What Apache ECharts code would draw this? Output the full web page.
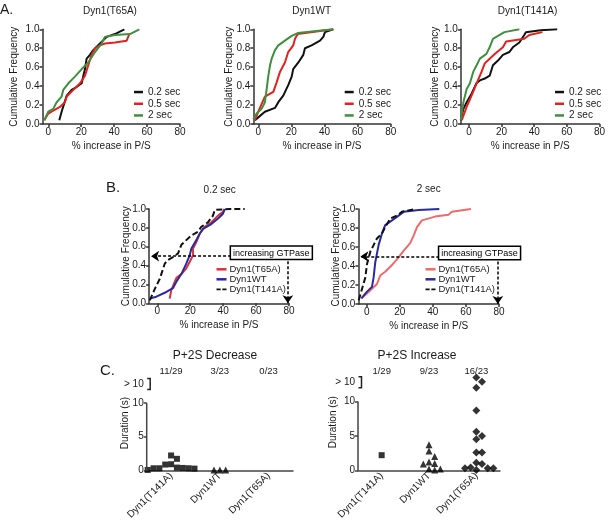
<!DOCTYPE html>
<html><head><meta charset="utf-8">
<script src="https://cdn.jsdelivr.net/npm/echarts@6/dist/echarts.min.js"></script>
<style>html,body{margin:0;padding:0;background:#fff}#c{width:608px;height:522px}</style>
</head><body><div id="c"></div>
<script>
// ---------- DATA ----------
const xTickVals = [0, 20, 40, 60, 80];
// Panel A1: Dyn1(T65A)
const a1_02_x = [6.7,8.1,11.2,14.2,17.2,20.3,21.3,22.3,23.3,25.3,27.3,31.4,35.5,40.5,46.2];
const a1_02_y = [0.04,0.13,0.30,0.36,0.39,0.43,0.51,0.58,0.69,0.73,0.78,0.85,0.92,0.95,1.0];
const a1_05_x = [-2.4,0,3,7.1,10.1,11.2,15.2,19.3,22.3,24.3,26.3,28.4,31.4,34.4,40.5,47.6,49.2];
const a1_05_y = [0.04,0.11,0.14,0.18,0.23,0.29,0.36,0.43,0.51,0.62,0.73,0.80,0.83,0.85,0.86,0.88,0.95];
const a1_2_x = [-2.4,0,3,5.1,8.1,9.1,12.2,16.2,20.3,24.3,28.4,32.4,34.4,40.5,49.6,55.3];
const a1_2_y = [0.04,0.13,0.16,0.23,0.29,0.36,0.43,0.50,0.58,0.65,0.76,0.85,0.92,0.94,0.95,1.0];
// Panel A2: Dyn1WT
const a2_02_x = [-2,0,4,10.1,12.1,15.1,18.1,20.2,21.1,24.2,27.2,28.2,32.2,37.3,39.3,40.3,45.3];
const a2_02_y = [0.04,0.07,0.13,0.17,0.23,0.30,0.41,0.50,0.58,0.65,0.73,0.80,0.83,0.88,0.92,0.97,1.0];
const a2_05_x = [-2,0,2,4,9.1,11.1,13.1,16.1,18.1,21.1,22.2,23.8,45.3];
const a2_05_y = [0.04,0.13,0.21,0.29,0.34,0.44,0.55,0.65,0.76,0.83,0.90,0.95,1.0];
const a2_2_x = [-3,-1,2,4,5.1,6,7.1,8.1,10.1,12.1,16.1,20.2,23.8,45.3];
const a2_2_y = [0.05,0.11,0.16,0.23,0.37,0.50,0.62,0.69,0.78,0.83,0.88,0.93,0.96,1.0];
// Panel A3: Dyn1(T141A)
const a3_02_x = [-5,-3.4,-1.4,1.6,4.6,6.7,9.7,12.7,14.7,17.8,20.8,24.8,26.9,30.9,33.9,34.9,44,54.1];
const a3_02_y = [0.04,0.16,0.23,0.32,0.43,0.46,0.48,0.51,0.62,0.67,0.73,0.76,0.81,0.86,0.94,0.97,0.99,1.0];
const a3_05_x = [-4.4,-1.4,1.6,4.7,7.7,9.7,12.7,15.8,20.8,22.8,29.9,33.9,37,45];
const a3_05_y = [0.04,0.18,0.30,0.43,0.55,0.64,0.69,0.74,0.81,0.87,0.89,0.90,0.94,0.97];
const a3_2_x = [-5,-3.4,-1.4,0.6,2.6,4.7,6.7,10.7,12.7,14.7,18.8,21.8,30.9];
const a3_2_y = [0.04,0.23,0.37,0.43,0.55,0.62,0.69,0.74,0.81,0.90,0.94,0.97,1.0];
// Panel B1: 0.2 sec
const b1_t65_x = [7.5,8.5,10.6,11.6,14.6,17.6,19.7,21.7,21.7,23.7,25.8,28.8,32.8,36.9,39.9,40.9];
const b1_t65_y = [0.05,0.14,0.23,0.27,0.31,0.37,0.44,0.51,0.58,0.65,0.74,0.81,0.86,0.93,0.97,1.0];
const b1_wt_x = [-4.6,-0.6,5.5,9.5,11.6,14.6,17.6,19.7,20.7,23.7,25.8,27.8,32.8,36.9,39.9,41];
const b1_wt_y = [0.05,0.07,0.12,0.16,0.23,0.31,0.42,0.51,0.58,0.67,0.74,0.79,0.84,0.90,0.95,1.0];
const b1_t141_x = [-4.6,-1.6,1.5,4.5,6.5,9.5,12.6,14.6,17.6,20.7,24.7,26.7,30.8,33.8,34.9,44,53.1];
const b1_t141_y = [0.03,0.15,0.26,0.42,0.46,0.49,0.53,0.62,0.67,0.72,0.76,0.81,0.86,0.93,0.99,1.0,1.0];
// Panel B2: 2 sec
const b2_t65_x = [-3.2,0.2,3.2,6.2,8.2,11.2,15.3,19.3,22.3,26.3,28.4,30.4,33.4,41.4,49.5,51.5,63];
const b2_t65_y = [0.06,0.11,0.16,0.21,0.30,0.34,0.41,0.49,0.56,0.64,0.72,0.81,0.88,0.92,0.94,0.97,1.0];
const b2_wt_x = [-3.2,0.2,3.2,4.2,5.2,7.2,9.2,11.2,15.3,19.3,22.3,31.4,43.9];
const b2_wt_y = [0.06,0.13,0.18,0.28,0.44,0.62,0.74,0.83,0.88,0.93,0.97,0.99,1.0];
const b2_t141_x = [-4.8,-2.8,-0.8,0.2,2.2,4.2,6.2,9.2,11.2,14.3,18.3,21.3,29.4];
const b2_t141_y = [0.04,0.16,0.28,0.42,0.55,0.62,0.69,0.74,0.81,0.90,0.93,0.97,1.0];
// Panel C
const catsC = ['Dyn1(T141A)', 'Dyn1WT', 'Dyn1(T65A)'];
const totalsC = [29, 23, 23];
const decT141A = [2.2,1.7,0.9,0.85,0.4,0.35,0.3,0.3,0.3,0.25,0.05];
const decWT = [0.05,0.05,0.05];
const decT65A = [];
const incT141A = [2.2];
const incWT = [3.7,2.8,2.0,1.2,1.0,0.9,0.2,0.2,0.05];
const incT65A = [13.5,12.9,12.0,8.7,5.6,5.0,4.5,2.6,2.6,1.1,0.9,0.4,0.3,0.3,0.3,0.05];
const cYTicks = [0, 5, 10];
const cBreakLabel = 12.8;

// ---------- STYLE ----------
const FONT = '"Liberation Sans", Arial, Helvetica, sans-serif';
const TXT = '#1a1a1a';
const AX = '#333';
const BLACK = '#111', RED = '#e3211f', GREEN = '#3f8f3f', BLUE = '#2a2aa0', RED_B1 = '#d8323c', RED_B2 = '#ee6b6b';

const pairs = (xs, ys) => xs.map((x, i) => [x, ys[i]]);

function lineSeries(name, xs, ys, idx, color, dashed) {
  return {
    name, type: 'line', xAxisIndex: idx, yAxisIndex: idx, data: pairs(xs, ys),
    symbol: 'none', showSymbol: false, silent: true,
    lineStyle: { width: 2, color, type: dashed ? [6, 3] : 'solid' },
    itemStyle: { color }, emphasis: { disabled: true }
  };
}

const gridsAB = [
  { left: 42.5, top: 29.3, width: 137.5, height: 94.7, min: -3.5, yGap: 23, xGap: 17 },
  { left: 253.3, top: 29.3, width: 137.4, height: 94.7, min: -3, yGap: 19.5, xGap: 17 },
  { left: 460.8, top: 29.3, width: 140.2, height: 94.7, min: -5, yGap: 20.5, xGap: 17 },
  { left: 149.1, top: 209, width: 139.9, height: 94.3, min: -5, yGap: 18, xGap: 17 },
  { left: 358.4, top: 209, width: 140.6, height: 95, min: -5, yGap: 17.5, xGap: 17 }
];

const grids = [], xAxes = [], yAxes = [];
gridsAB.forEach((g, i) => {
  grids.push({ left: g.left, top: g.top, width: g.width, height: g.height, containLabel: false });
  xAxes.push({
    type: 'value', gridIndex: i, min: g.min, max: 80,
    name: '% increase in P/S', nameLocation: 'middle', nameGap: g.xGap, nameMoveOverlap: false,
    nameTextStyle: { fontSize: 10, color: TXT, fontFamily: FONT },
    axisLine: { show: true, onZero: false, lineStyle: { color: AX, width: 1.5 } },
    axisTick: { show: true, length: 3, customValues: xTickVals, lineStyle: { color: AX, width: 1.5 } },
    axisLabel: { customValues: xTickVals, fontSize: 10, color: TXT, margin: 3, fontFamily: FONT },
    splitLine: { show: false }
  });
  yAxes.push({
    type: 'value', gridIndex: i, min: 0, max: 1, interval: 0.2,
    name: 'Cumulative Frequency', nameLocation: 'middle', nameGap: g.yGap, nameMoveOverlap: false,
    nameTextStyle: { fontSize: 10, color: TXT, fontFamily: FONT },
    axisLine: { show: true, onZero: false, lineStyle: { color: AX, width: 1.5 } },
    axisTick: { show: true, length: 3, lineStyle: { color: AX, width: 1.5 } },
    axisLabel: { fontSize: 10, color: TXT, margin: 3, fontFamily: FONT, formatter: v => v.toFixed(1) },
    splitLine: { show: false }
  });
});

// Panel C grids (index 5, 6)
const gridsC = [
  { left: 146.7, top: 375.9, width: 146.3, height: 95.8, nameGap: 16 },
  { left: 358, top: 374.1, width: 142, height: 97.6, nameGap: 20 }
];
gridsC.forEach((g, j) => {
  const gi = 5 + j;
  grids.push({ left: g.left, top: g.top, width: g.width, height: g.height, containLabel: false });
  yAxes.push({
    type: 'value', gridIndex: gi, min: 0, max: 14,
    name: 'Duration (s)', nameLocation: 'middle', nameGap: g.nameGap, nameMoveOverlap: false,
    nameTextStyle: { fontSize: 10, color: TXT, fontFamily: FONT },
    axisLine: { show: false },
    axisTick: { show: true, length: 3, customValues: cYTicks, lineStyle: { color: '#444', width: 1.5 } },
    axisLabel: { customValues: cYTicks.concat([cBreakLabel]), fontSize: 10, color: TXT, margin: 3, fontFamily: FONT,
      formatter: v => (v > 10 ? '> 10' : String(v)) },
    splitLine: { show: false }
  });
});
[5, 6].forEach(gi => {
  xAxes.push({
    type: 'category', gridIndex: gi, data: catsC, boundaryGap: true,
    axisLine: { show: true, onZero: false, lineStyle: { color: '#444', width: 1.5 } },
    axisTick: { show: false },
    axisLabel: { rotate: 45, interval: 0, fontSize: 10, color: TXT, margin: 4, fontFamily: FONT },
    splitLine: { show: false }
  });
});
[5, 6].forEach(gi => {
  xAxes.push({ type: 'value', gridIndex: gi, min: 0, max: 3, show: false, splitLine: { show: false } });
});

// beeswarm layout of points within a category
function swarm(vals, catIdx, pxPerY) {
  const step = 0.12, size = 6.2, placed = [];
  const center = catIdx + 0.5;
  vals.forEach(v => {
    for (let k = 0; k < 60; k++) {
      const m = k === 0 ? 0 : (k % 2 ? (k + 1) / 2 : -k / 2);
      const x = center + m * step;
      const ok = placed.every(p => Math.abs(p[0] - x) > step * 0.5 || Math.abs(p[1] - v) * pxPerY >= size);
      if (ok) { placed.push([x, v]); break; }
    }
  });
  return placed;
}
const symbolsC = ['rect', 'triangle', 'diamond'];
const sizesC = [6, 7, 8];

const series = [
  lineSeries('0.2 sec', a1_02_x, a1_02_y, 0, BLACK),
  lineSeries('0.5 sec', a1_05_x, a1_05_y, 0, RED),
  lineSeries('2 sec', a1_2_x, a1_2_y, 0, GREEN),
  lineSeries('0.2 sec', a2_02_x, a2_02_y, 1, BLACK),
  lineSeries('0.5 sec', a2_05_x, a2_05_y, 1, RED),
  lineSeries('2 sec', a2_2_x, a2_2_y, 1, GREEN),
  lineSeries('0.2 sec', a3_02_x, a3_02_y, 2, BLACK),
  lineSeries('0.5 sec', a3_05_x, a3_05_y, 2, RED),
  lineSeries('2 sec', a3_2_x, a3_2_y, 2, GREEN),
  lineSeries('Dyn1(T65A)', b1_t65_x, b1_t65_y, 3, RED_B1),
  lineSeries('Dyn1WT', b1_wt_x, b1_wt_y, 3, BLUE),
  lineSeries('Dyn1(T141A)', b1_t141_x, b1_t141_y, 3, BLACK, true),
  lineSeries('Dyn1(T65A)', b2_t65_x, b2_t65_y, 4, RED_B2),
  lineSeries('Dyn1WT', b2_wt_x, b2_wt_y, 4, BLUE),
  lineSeries('Dyn1(T141A)', b2_t141_x, b2_t141_y, 4, BLACK, true)
];

// GTPase annotation arrows (markLine) on B panels
const arrowX = 79.3, boxEdgeX = [44.8, 43.9];
[11, 14].forEach((si, k) => {
  series[si].markLine = {
    silent: true, animation: false, symbol: ['none', 'arrow'], symbolSize: 8,
    label: { show: false },
    lineStyle: { color: '#000', width: 1.5, type: [3, 2] },
    emphasis: { disabled: true },
    data: [
      [{ coord: [boxEdgeX[k], 0.5] }, { coord: [-3.8, 0.5] }],
      [{ coord: [arrowX, 0.5] }, { coord: [arrowX, 0.0] }]
    ]
  };
});

const cData = [[decT141A, decWT, decT65A], [incT141A, incWT, incT65A]];
cData.forEach((groups, j) => {
  const pxPerY = gridsC[j].height / 14;
  groups.forEach((vals, ci) => {
    series.push({
      name: 'C' + j + '_' + catsC[ci], type: 'scatter', xAxisIndex: 7 + j, yAxisIndex: 5 + j,
      data: swarm(vals, ci, pxPerY), symbol: symbolsC[ci], symbolSize: sizesC[ci],
      itemStyle: { color: '#000' }, silent: true, emphasis: { disabled: true }
    });
  });
});

const DASH_ICON = 'path://M0,0 H5 V2 H0 Z M7,0 H12 V2 H7 Z';
function legend(left, top, names, colors, rowH, fs, iconW, shift, dashedLast) {
  return {
    left, top, orient: 'vertical', itemWidth: iconW, itemHeight: 2.5, itemGap: 0, selectedMode: false,
    padding: 0, icon: 'rect',
    textStyle: { fontSize: fs, lineHeight: rowH, color: TXT, fontFamily: FONT, padding: [0, 0, 0, shift] },
    data: names.map((n, i) => ({ name: n, icon: (dashedLast && i === names.length - 1) ? DASH_ICON : 'rect',
      itemStyle: { color: colors[i] } }))
  };
}
const aNames = ['0.2 sec', '0.5 sec', '2 sec'], aCols = [BLACK, RED, GREEN];
const bNames = ['Dyn1(T65A)', 'Dyn1WT', 'Dyn1(T141A)'];

const option = {
  animation: false,
  backgroundColor: '#fff',
  textStyle: { fontFamily: FONT },
  grid: grids, xAxis: xAxes, yAxis: yAxes, series,
  legend: [
    legend(134, 86.2, aNames, aCols, 11.7, 10, 9, 0, false),
    legend(344.7, 86.2, aNames, aCols, 11.7, 10, 9, 0, false),
    legend(555, 86.2, aNames, aCols, 11.7, 10, 9, 0, false),
    legend(216.5, 264.3, bNames, [RED_B1, BLUE, BLACK], 10, 9.5, 10, -2, true),
    legend(425.5, 264.3, bNames, [RED_B2, BLUE, BLACK], 10, 9.5, 10, -2, true)
  ]
};

const chart = echarts.init(document.getElementById('c'), null, { renderer: 'canvas' });
chart.setOption(option);

// ---------- text + decorations ----------
function txt(text, x, y, size, align, weight) {
  return { type: 'text', z: 100, silent: true, style: {
    text, x, y, font: (weight || 'normal') + ' ' + size + 'px ' + FONT, fill: TXT,
    align: align || 'center', textAlign: align || 'center', verticalAlign: 'middle', textVerticalAlign: 'middle' } };
}
const g = [
  txt('A.', 0, 10.5, 14, 'left'),
  txt('Dyn1(T65A)', 110, 11.7, 10),
  txt('Dyn1WT', 311.7, 11.7, 10),
  txt('Dyn1(T141A)', 527.5, 11.7, 10),
  txt('B.', 106, 187.5, 15, 'left'),
  txt('0.2 sec', 219.7, 190, 10),
  txt('2 sec', 428.7, 189, 10),
  txt('C.', 100, 371, 15, 'left'),
  txt('P+2S Decrease', 215, 356, 12),
  txt('P+2S Increase', 417, 356, 12)
];
[3, 4].forEach((gi, k) => {
  const p = chart.convertToPixel({ xAxisIndex: gi, yAxisIndex: gi }, [boxEdgeX[k], 0.5]);
  g.push({ type: 'text', z: 101, silent: true, style: {
    text: 'increasing GTPase', x: p[0], y: p[1] + 2.5, font: '9px ' + FONT, fill: '#000',
    align: 'left', textAlign: 'left', verticalAlign: 'bottom', textVerticalAlign: 'bottom',
    backgroundColor: '#fff', borderColor: '#000', borderWidth: 1.5, padding: [2, 2, 1, 2] } });
});
cData.forEach((groups, j) => {
  const q = { xAxisIndex: 7 + j, yAxisIndex: 5 + j };
  const p0 = chart.convertToPixel(q, [0, 0]);
  const p10 = chart.convertToPixel(q, [0, 10]);
  const b0 = chart.convertToPixel(q, [0, 12.0]);
  const b1 = chart.convertToPixel(q, [0, 13.6]);
  g.push({ type: 'line', z: 100, silent: true, shape: { x1: p0[0], y1: p0[1] + 0.75, x2: p10[0], y2: p10[1] },
    style: { stroke: '#444', lineWidth: 1.5 } });
  g.push({ type: 'polyline', z: 100, silent: true,
    shape: { points: [[b0[0] + 0.5, b0[1]], [b0[0] + 3.5, b0[1]], [b0[0] + 3.5, b1[1]], [b0[0] + 0.5, b1[1]]] },
    style: { stroke: '#222', lineWidth: 1.5, fill: null } });
  groups.forEach((vals, ci) => {
    const cx = chart.convertToPixel({ xAxisIndex: 7 + j }, ci + 0.5);
    g.push(txt(vals.length + '/' + totalsC[ci], cx, 371.7, 9.5));
  });
});
chart.setOption({ graphic: g });
</script></body></html>
